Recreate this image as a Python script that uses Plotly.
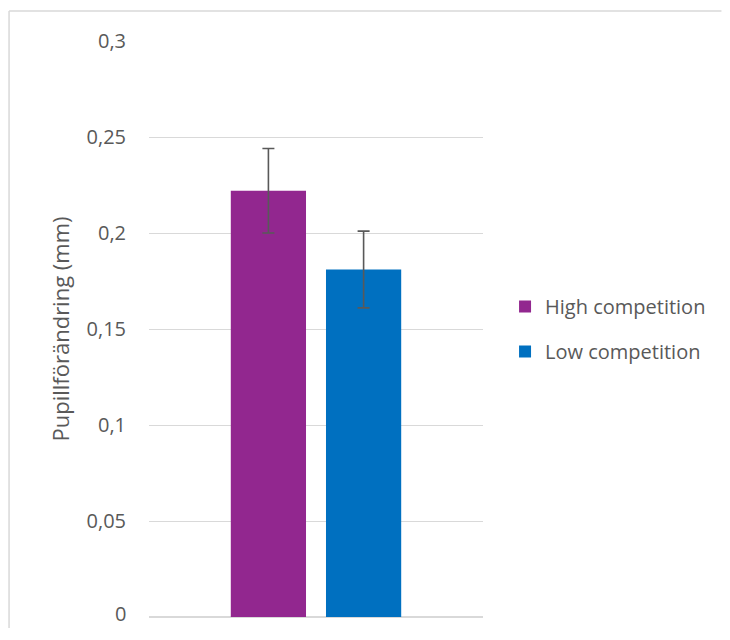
import plotly.graph_objects as go

categories = [""]
series_names = ["High competition", "Low competition"]
series_values = [[0.222], [0.181]]
series_errors = [[0.022], [0.020]]
series_colors = ["#92278F", "#0070C0"]
tick_values = [0, 0.05, 0.1, 0.15, 0.2, 0.25, 0.3]
tick_labels = ["0", "0,05", "0,1", "0,15", "0,2", "0,25", "0,3"]

FONT = "Open Sans"
GRAY = "#595959"
BORDER = "#D9D9D9"

fig = go.Figure()
for i, name in enumerate(series_names):
    fig.add_trace(go.Bar(
        x=categories, y=series_values[i], name=name,
        marker=dict(color=series_colors[i], line=dict(width=0)),
        legendgroup=name,
        error_y=dict(type="data", array=series_errors[i], visible=True,
                     color=GRAY, thickness=1.6, width=6),
    ))

fig.update_layout(
    width=714, height=620,
    margin=dict(l=141, r=239, t=33, b=11),
    paper_bgcolor="white", plot_bgcolor="white",
    barmode="group", bargap=0.43, bargroupgap=0.21,
    font=dict(family=FONT, size=20, color=GRAY),
    showlegend=True,
    legend=dict(x=1.066, y=0.5, xanchor="left", yanchor="middle",
                font=dict(family=FONT, size=20, color=GRAY),
                tracegroupgap=16, itemwidth=30),
    xaxis=dict(showticklabels=False, showgrid=False, zeroline=False,
               showline=False, ticks=""),
    yaxis=dict(range=[0, 0.3], tickvals=tick_values, ticktext=tick_labels,
               showgrid=True, gridcolor="#D9D9D9", gridwidth=1,
               zeroline=True, zerolinecolor="#D9D9D9", zerolinewidth=1.5,
               showline=False, ticks="", ticklabelstandoff=22,
               title=dict(text="Pupillförändring (mm)", standoff=10,
                          font=dict(family=FONT, size=22, color=GRAY))),
    annotations=[dict(
        text=tick_labels[0], xref="paper", x=0, xanchor="right", xshift=-21,
        yref="y", y=tick_values[0], yanchor="middle", yshift=4,
        showarrow=False, font=dict(family=FONT, size=20, color=GRAY))],
    shapes=[
        dict(type="line", xref="paper", yref="paper",
             x0=-0.419, x1=-0.419, y0=-0.02, y1=1.052,
             line=dict(color=BORDER, width=1.5), layer="below"),
        dict(type="line", xref="paper", yref="paper",
             x0=-0.419, x1=1.714, y0=1.052, y1=1.052,
             line=dict(color=BORDER, width=1.5), layer="below"),
    ],
)

fig.write_html("out.html")
